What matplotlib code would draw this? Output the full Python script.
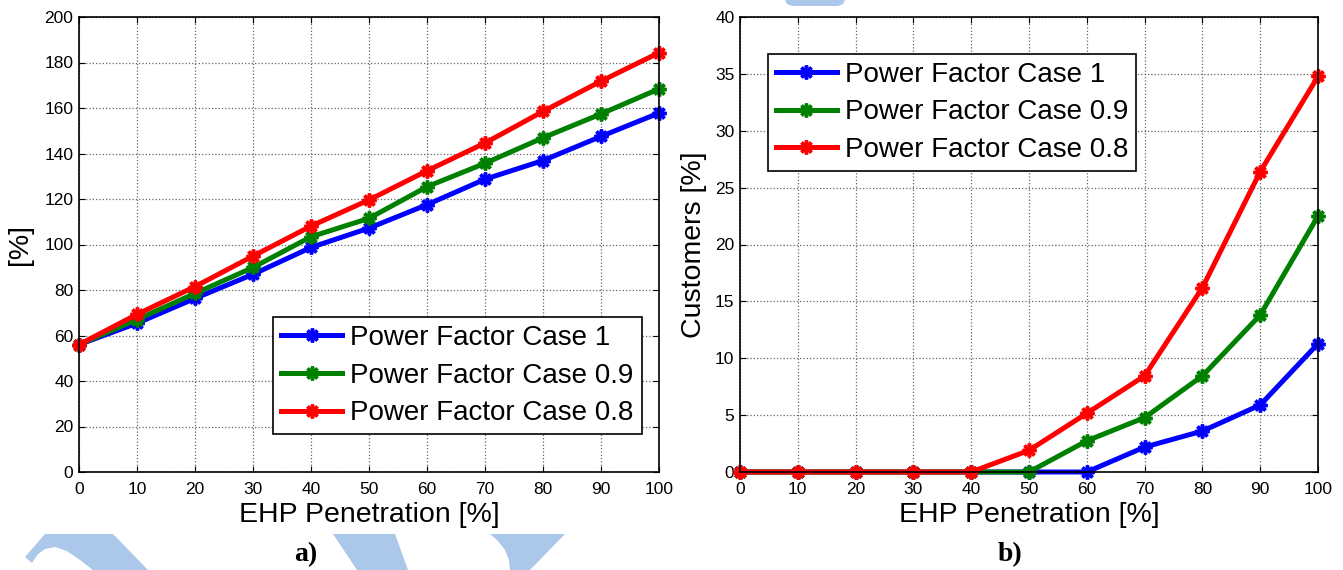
import matplotlib
matplotlib.use("Agg")
import matplotlib.pyplot as plt
from matplotlib.patches import Polygon

plt.rcParams["font.family"] = ["Liberation Sans", "DejaVu Sans"]

# EHP penetration levels [%]
penetration = [0, 10, 20, 30, 40, 50, 60, 70, 80, 90, 100]

# a) loading [%]
load_pf1 = [56, 65.4, 76.3, 86.9, 98.7, 107.2, 117.5, 128.7, 136.9, 147.5, 157.8]
load_pf09 = [56, 67, 78.5, 89.9, 103.4, 111.5, 125.4, 135.7, 146.9, 157.4, 168.4]
load_pf08 = [56, 69.3, 81.5, 94.9, 108.1, 119.6, 132.4, 144.6, 158.5, 171.8, 184.3]

# b) customers affected [%]
cust_pf1 = [0, 0, 0, 0, 0, 0, 0, 2.19, 3.6, 5.89, 11.28]
cust_pf09 = [0, 0, 0, 0, 0, 0, 2.74, 4.78, 8.45, 13.8, 22.5]
cust_pf08 = [0, 0, 0, 0, 0, 1.9, 5.16, 8.45, 16.2, 26.4, 34.77]

labels = ["Power Factor Case 1", "Power Factor Case 0.9", "Power Factor Case 0.8"]
colors = ["#0000ff", "#008000", "#ff0000"]
wm_color = "#abc7e9"

W, H = 1343, 570
fig = plt.figure(figsize=(W / 100, H / 100), dpi=100)


def px_poly(pts):
    # pixel coords (top-left origin) -> figure fraction
    return [(x / W, 1 - y / H) for x, y in pts]


# light blue watermark shapes behind the figure
shapes = [
    [(25, 557), (45, 534), (113, 534), (148, 570), (93, 570), (80, 560),
     (67, 551), (55, 547), (45, 549), (38, 554), (32, 563)],
    [(333, 534), (395, 534), (408, 570), (357, 570)],
    [(490, 534), (565, 534), (530, 570), (510, 570), (509, 560), (505, 550), (498, 541)],
    [(785, 0), (845, 0), (843, 4), (838, 6), (792, 6), (787, 4)],
]
for s in shapes:
    fig.patches.append(Polygon(px_poly(s), closed=True, transform=fig.transFigure,
                               facecolor=wm_color, edgecolor="none", zorder=0))


def style_axes(ax, ymax, ystep):
    ax.set_xlim(0, 100)
    ax.set_ylim(0, ymax)
    ax.set_xticks(penetration)
    ax.set_yticks(range(0, ymax + 1, ystep))
    ax.grid(True, linestyle=":", color="#666666", linewidth=0.9)
    ax.tick_params(direction="in", top=True, right=True, length=4, labelsize=12.5)
    ax.tick_params(axis="x", pad=7)
    ax.tick_params(axis="y", pad=4)
    for sp in ax.spines.values():
        sp.set_linewidth(1.2)
    ax.set_xlabel("EHP Penetration [%]", fontsize=20.5, labelpad=4)


def plot_series(ax, series):
    for ys, c, lab in zip(series, colors, labels):
        ax.plot(penetration, ys, color=c, linewidth=3.6, marker=(8, 2, 0),
                markersize=10, markeredgewidth=2.5, label=lab, clip_on=False)


def add_legend(ax, loc, anchor):
    leg = ax.legend(loc=loc, bbox_to_anchor=anchor, borderaxespad=0,
                    fontsize=20, fancybox=False, edgecolor="black",
                    framealpha=1, handlelength=2.2, labelspacing=0.42,
                    handletextpad=0.3, borderpad=0.28)
    leg.get_frame().set_linewidth(1.2)


ax1 = fig.add_axes([79 / W, 1 - 472 / H, (659 - 79) / W, (472 - 17) / H])
plot_series(ax1, [load_pf1, load_pf09, load_pf08])
style_axes(ax1, 200, 20)
ax1.set_ylabel("[%]", fontsize=20.5, labelpad=8)
add_legend(ax1, "lower right", (0.97, 0.0835))

ax2 = fig.add_axes([740 / W, 1 - 472 / H, (1318 - 740) / W, (472 - 17) / H])
plot_series(ax2, [cust_pf1, cust_pf09, cust_pf08])
style_axes(ax2, 40, 5)
ax2.set_ylabel("Customers [%]", fontsize=20.5, labelpad=6)
add_legend(ax2, "upper left", (0.048, 0.919))

fig.text(306 / W, 1 - 555 / H, "a)", ha="center", va="center", fontsize=20,
         fontweight="bold", family=["Liberation Serif", "DejaVu Serif"])
fig.text(1010 / W, 1 - 555 / H, "b)", ha="center", va="center", fontsize=20,
         fontweight="bold", family=["Liberation Serif", "DejaVu Serif"])

fig.savefig("out.png", dpi=100)
